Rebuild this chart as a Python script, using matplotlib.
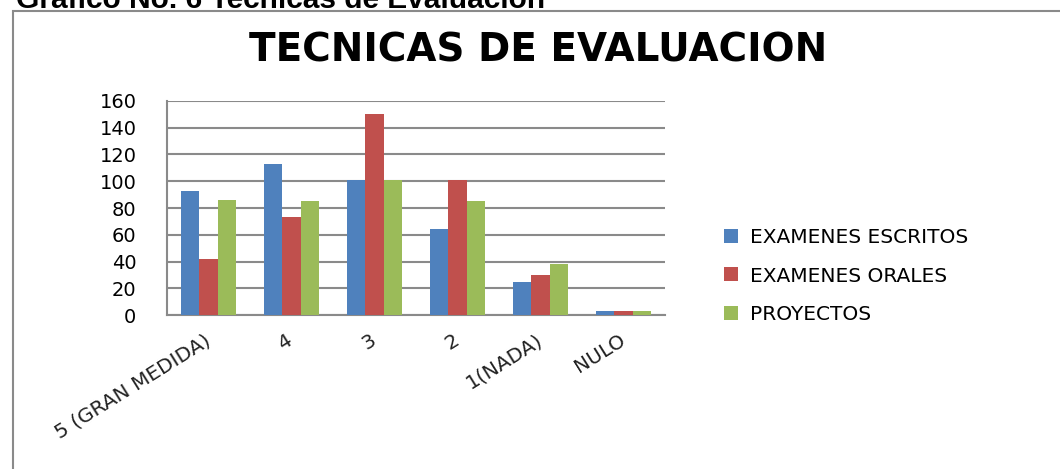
import numpy as np
import matplotlib
matplotlib.use("Agg")
import matplotlib.pyplot as plt
from matplotlib.patches import Rectangle

plt.rcParams['font.family'] = ['DejaVu Sans']

categorias = ["5 (GRAN MEDIDA)", "4", "3", "2", "1(NADA)", "NULO"]
escritos = [93, 113, 101, 64, 25, 3]
orales = [42, 73, 150, 101, 30, 3]
proyectos = [86, 85, 101, 85, 38, 3]
series = ["EXAMENES ESCRITOS", "EXAMENES ORALES", "PROYECTOS"]
colores = ["#4F81BD", "#C0504D", "#9BBB59"]
y_ticks = [0, 20, 40, 60, 80, 100, 120, 140, 160]

W, H = 1060, 469
fig = plt.figure(figsize=(W / 100, H / 100), dpi=100)

# marco gris del grafico
fig.patches.append(Rectangle((13 / W, -0.05), 1.2, 1 - 11 / H + 0.05,
                             transform=fig.transFigure, fill=False,
                             edgecolor="#8a8a8a", linewidth=1.5))

# texto de arriba (cortado)
fig.text(16 / W, 1 - 8 / H, "Grafico No. 6 Tecnicas de Evaluacion",
         fontsize=21.5, fontweight="bold", family="Liberation Sans",
         va="baseline", ha="left")

fig.text(538 / W, 1 - 51 / H, "TECNICAS DE EVALUACION", fontsize=28,
         fontweight="bold", family="DejaVu Sans", ha="center", va="center")

ax = fig.add_axes([167 / W, 1 - 315 / H, (665 - 167) / W, (315 - 101) / H])

x = np.arange(len(categorias))
w = 1 / 4.5
for i, (vals, nombre, c) in enumerate(zip([escritos, orales, proyectos], series, colores)):
    ax.bar(x + (i - 1) * w, vals, w, color=c, label=nombre, zorder=3)

ax.set_xlim(-0.5, len(categorias) - 0.5)
ax.set_ylim(0, 160)
ax.set_yticks(y_ticks)
ax.set_yticklabels([str(v) for v in y_ticks], fontsize=14)
ax.tick_params(axis="y", length=0, pad=22)
ax.set_xticks(x)
ax.set_xticklabels(categorias, rotation=32, ha="right", va="center",
                   rotation_mode="anchor", fontsize=14.5, color="#222222")
ax.tick_params(axis="x", length=0, pad=17)

ax.yaxis.grid(True, color="#8a8a8a", linewidth=1.5, zorder=0)
for s in ["top", "right"]:
    ax.spines[s].set_visible(False)
for s in ["left", "bottom"]:
    ax.spines[s].set_color("#8a8a8a")
    ax.spines[s].set_linewidth(1.5)

fig.legend(loc="center left", bbox_to_anchor=(714 / W, 1 - 276 / H),
           frameon=False, fontsize=14.5, handlelength=0.7, handleheight=0.7,
           handletextpad=0.6, labelspacing=0.95, borderpad=0)

fig.savefig("out.png", dpi=100)
